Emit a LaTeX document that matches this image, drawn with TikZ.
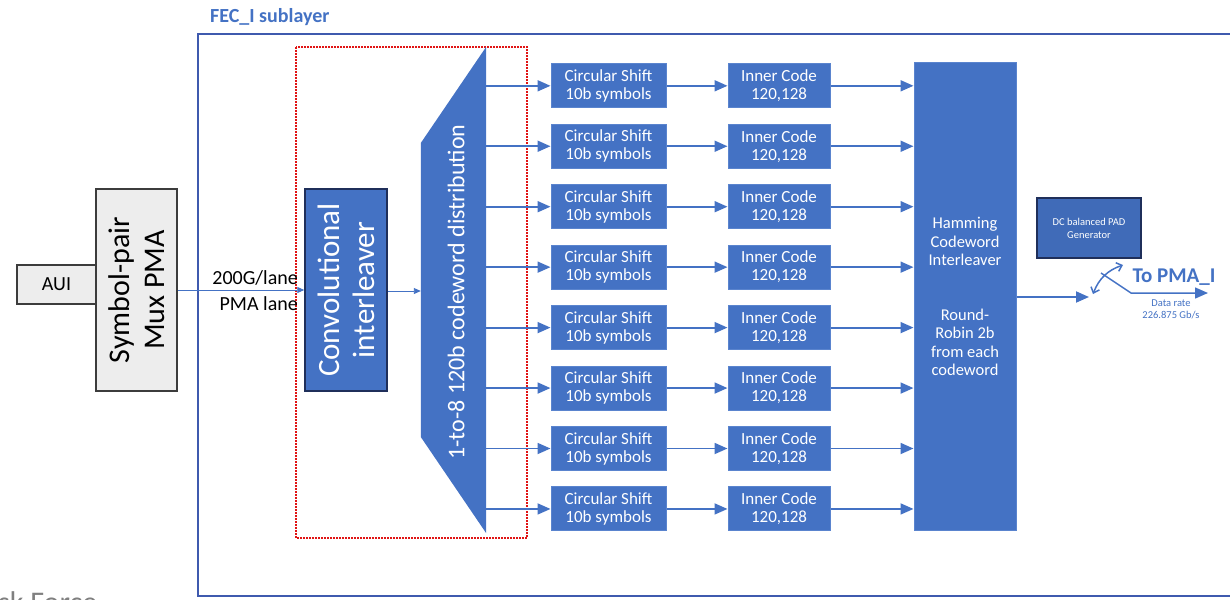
\documentclass[tikz,border=0pt]{standalone}
\usepackage{fontspec}
\setmainfont{Carlito}
\usetikzlibrary{arrows.meta,calc}
\definecolor{fecblue}{HTML}{4472C4}
\definecolor{blkedge}{HTML}{5A84CE}
\definecolor{framebl}{HTML}{3F5AAE}
\definecolor{navy}{HTML}{1F2F5A}
\definecolor{dotred}{HTML}{E01414}
\definecolor{boxgray}{HTML}{EDEDED}
\definecolor{edgegray}{HTML}{3C3C3C}
\definecolor{mutegray}{HTML}{808080}

\begin{document}
\begin{tikzpicture}[x=1pt,y=-1pt,
  blk/.style={fill=fecblue,draw=blkedge,line width=1pt,text=white,align=center,
    inner sep=0pt,font=\fontsize{17}{18}\selectfont},
  graybox/.style={fill=boxgray,draw=edgegray,line width=1.2pt,align=center,inner sep=0pt},
  thinarrow/.style={draw=fecblue,line width=0.9pt,-{Triangle[length=7pt,width=6pt]}},
  thickarrow/.style={draw=fecblue,line width=1.8pt,-{Triangle[length=13pt,width=11pt]}},
  lbl/.style={inner sep=0pt,align=center}
]
\useasboundingbox (0,0) rectangle (1230,599);

% sublayer frame and title
\draw[framebl,line width=1.3pt] (1230,34) -- (198,34) -- (198,596) -- (1230,596);
\node[lbl,anchor=west,text=fecblue,font=\fontsize{20}{24}\selectfont\bfseries] (title) at (210,17) {FEC\_I sublayer};

% partly hidden footer text
\node[lbl,anchor=base west,text=mutegray,font=\fontsize{30}{36}\selectfont] (footer) at (-2,612) {sk Force};

% dotted group around interleaver and distributor
\draw[dotred,line width=2pt,dash pattern=on 1.6pt off 1.4pt] (296,47) rectangle (527,538);

% AUI and PMA
\node[graybox,minimum width=79pt,minimum height=39pt,font=\fontsize{20}{24}\selectfont] (aui) at (56.5,284.5) {AUI};
\node[graybox,rotate=90,minimum width=202pt,minimum height=81pt,font=\fontsize{30}{35}\selectfont] (mux) at (136.5,290) {Symbol-pair\\Mux PMA};

% convolutional interleaver
\node[fill=fecblue,draw=navy,line width=1.5pt,text=white,align=center,inner sep=0pt,rotate=90,
  minimum width=202pt,minimum height=82pt,font=\fontsize{31}{35}\selectfont] (conv) at (346,290) {Convolutional\\interleaver};

\draw[thinarrow] (mux.south |- 0,290) -- (conv.north |- 0,290);
\node[lbl,anchor=east,align=right,font=\fontsize{20}{26}\selectfont] (lane) at (298,291) {200G/lane\\PMA lane};

% 1-to-8 distributor
\node[inner sep=0pt,minimum width=65pt,minimum height=486pt] (dist) at (453.5,290) {};
\fill[fecblue] (dist.north east) -- (dist.south east) -- (dist.west |- 0,437) -- (dist.west |- 0,143) -- cycle;
\node[lbl,rotate=90,text=white,font=\fontsize{24}{28}\selectfont] (distlbl) at (456,292) {1-to-8 120b codeword distribution};
\draw[thinarrow] (conv.south |- 0,291) -- (dist.west |- 0,291);

% interleaver on the right
\node[blk,minimum width=102pt,minimum height=467pt,font=\fontsize{16.5}{18.3}\selectfont] (ham) at (965,296.5)
  {Hamming\\Codeword\\Interleaver\\~\\~\\Round-\\Robin 2b\\from each\\codeword};

% eight lanes
\foreach \i in {1,...,8}{
  \pgfmathsetmacro{\yy}{85.8+(\i-1)*60.45}
  \node[blk,minimum width=115pt,minimum height=44pt] (cs\i) at (608.5,\yy) {Circular Shift\\10b symbols};
  \node[blk,minimum width=102pt,minimum height=44pt] (ic\i) at (779,\yy) {Inner Code\\120,128};
  \draw[thickarrow] (dist.east |- cs\i.west) -- (cs\i.west);
  \draw[thickarrow] (cs\i.east) -- (ic\i.west);
  \draw[thickarrow] (ic\i.east) -- (ham.west |- ic\i.east);
}

% pad generator
\node[fill=fecblue!94!black,draw=navy,line width=1.5pt,text=white,align=center,inner sep=0pt,
  minimum width=104pt,minimum height=60pt,font=\fontsize{10.5}{13}\selectfont] (pad) at (1089,228) {DC balanced PAD\\Generator};

% output selector
\coordinate (swin) at (1089,297);
\coordinate (arcA) at (1093,294);
\coordinate (arcB) at (1123,265);
\coordinate (lev1) at (1101,273);
\coordinate (lev2) at (1131,293);
\coordinate (pmaout) at (1208,293);
\draw[thickarrow] (ham.east |- swin) -- (swin);
\draw[fecblue,line width=1.5pt,{Straight Barb[length=5pt,width=9pt]}-{Straight Barb[length=5pt,width=9pt]}] (arcA) to[bend left=25] (arcB);
\draw[thickarrow,line width=1.5pt] (lev1) -- (lev2) -- (pmaout);
\node[lbl,text=fecblue,font=\fontsize{21}{24}\selectfont\bfseries] (topma) at (1174,277) {To PMA\_I};
\node[lbl,text=fecblue,font=\fontsize{10.5}{12}\selectfont] (rate) at (1171,309) {Data rate\\226.875 Gb/s};
\end{tikzpicture}
\end{document}
